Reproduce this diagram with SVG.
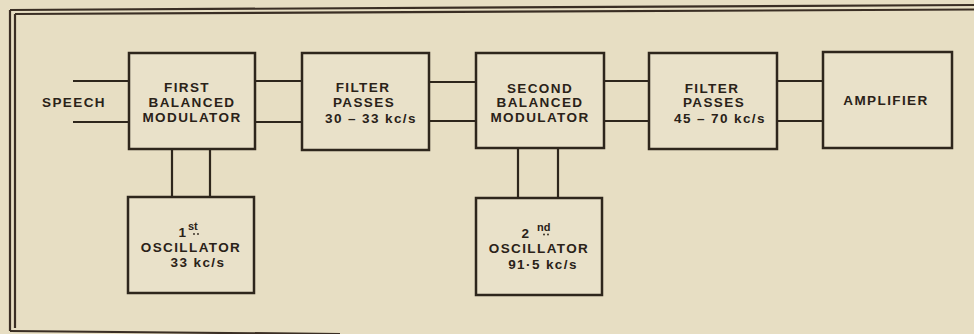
<svg xmlns="http://www.w3.org/2000/svg" width="974" height="334" viewBox="0 0 974 334">
<style>
.bg{fill:#e7dec3}
.box{fill:#e9e1c9;stroke:#2e261c;stroke-width:2.5}
.wire{stroke:#2e261c;stroke-width:2.2;fill:none}
.frame{stroke:#3a2e24;stroke-width:2.2;fill:none}
.t{font-family:"Liberation Sans",Arial,sans-serif;font-weight:bold;font-size:13.5px;fill:#2a2218;text-anchor:middle;letter-spacing:1.4px}
.sup{font-family:"Liberation Sans",Arial,sans-serif;font-weight:bold;font-size:11px;fill:#2a2218}
</style>
<rect class="bg" x="0" y="0" width="974" height="334"/>
<g id="frame">
<path class="frame" d="M10,10 L974,5"/>
<path class="frame" d="M15,14 L974,9.5"/>
<path class="frame" d="M10,10 L10,331"/>
<path class="frame" d="M15,14 L15,328"/>
<path class="frame" d="M10,331 L340,334"/>
</g>
<g id="connectors">
<path class="wire" d="M73,81 H129 M73,122 H129"/>
<path class="wire" d="M255,81 H302 M255,122 H302"/>
<path class="wire" d="M429,82 H476 M429,121 H476"/>
<path class="wire" d="M604,81 H649 M604,121 H649"/>
<path class="wire" d="M777,81 H823 M777,121 H823"/>
<path class="wire" d="M172,149 V197 M210,149 V197"/>
<path class="wire" d="M518,148 V198 M558,148 V198"/>
</g>
<g id="speech">
<text class="t" x="74" y="107">SPEECH</text>
</g>
<g id="mod1">
<rect class="box" x="129" y="53" width="126" height="96"/>
<text class="t" x="187" y="92">FIRST</text>
<text class="t" x="192" y="107">BALANCED</text>
<text class="t" x="192" y="122">MODULATOR</text>
</g>
<g id="filter1">
<rect class="box" x="302" y="53" width="127" height="97"/>
<text class="t" x="363" y="92">FILTER</text>
<text class="t" x="364" y="107">PASSES</text>
<text class="t" x="371" y="123">30 – 33 kc/s</text>
</g>
<g id="mod2">
<rect class="box" x="476" y="53" width="128" height="95"/>
<text class="t" x="540" y="93">SECOND</text>
<text class="t" x="540" y="107">BALANCED</text>
<text class="t" x="540" y="122">MODULATOR</text>
</g>
<g id="filter2">
<rect class="box" x="649" y="53" width="128" height="96"/>
<text class="t" x="712" y="93">FILTER</text>
<text class="t" x="714" y="107">PASSES</text>
<text class="t" x="720" y="123">45 – 70 kc/s</text>
</g>
<g id="amplifier">
<rect class="box" x="823" y="52" width="129" height="96"/>
<text class="t" x="886" y="105">AMPLIFIER</text>
</g>
<g id="osc1">
<rect class="box" x="128" y="197" width="126" height="96"/>
<text class="t" x="183" y="237">1</text>
<text class="sup" x="188" y="230">st</text>
<circle cx="194" cy="234" r="0.9" fill="#2a2218"/><circle cx="198" cy="234" r="0.9" fill="#2a2218"/>
<text class="t" x="191" y="252">OSCILLATOR</text>
<text class="t" x="198" y="267">33 kc/s</text>
</g>
<g id="osc2">
<rect class="box" x="476" y="198" width="126" height="97"/>
<text class="t" x="526" y="238">2</text>
<text class="sup" x="537" y="231">nd</text>
<circle cx="544" cy="234.5" r="0.9" fill="#2a2218"/><circle cx="548" cy="234.5" r="0.9" fill="#2a2218"/>
<text class="t" x="539" y="253">OSCILLATOR</text>
<text class="t" x="543" y="269">91·5 kc/s</text>
</g>
</svg>
